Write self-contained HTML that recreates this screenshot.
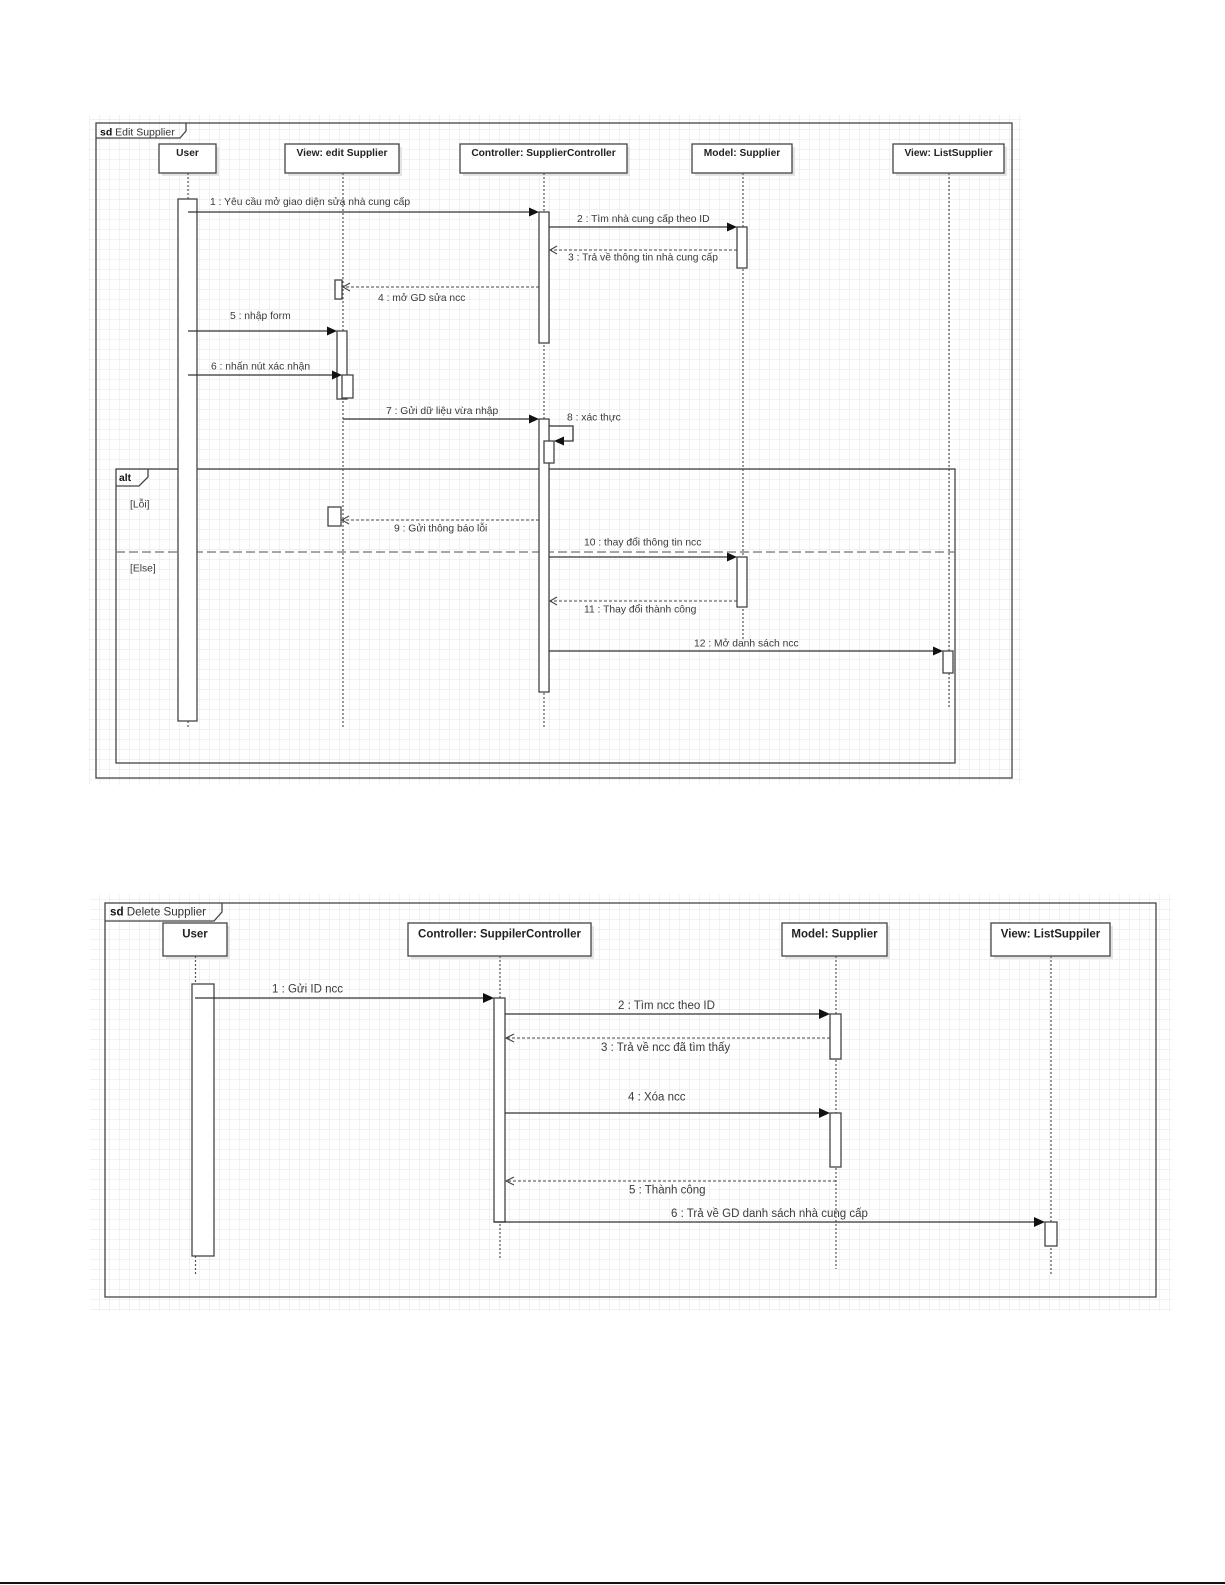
<!DOCTYPE html>
<html>
<head>
<meta charset="utf-8">
<style>
html,body{margin:0;padding:0;background:#fff;}
svg{display:block;}
text{font-family:"Liberation Sans",Arial,sans-serif;}
.lbl{font-size:10.3px;fill:#3a3a3a;}
.lbl2{font-size:11.5px;fill:#3a3a3a;}
.hd{font-size:10.2px;font-weight:bold;fill:#222;}
.hd2{font-size:11.5px;font-weight:bold;fill:#222;}
.ln{stroke:#333;stroke-width:1.3;fill:none;}
.dl{stroke:#444;stroke-width:1.1;stroke-dasharray:3,2;fill:none;}
.life{stroke:#555;stroke-width:1.2;stroke-dasharray:2,2;fill:none;}
.act{fill:#fff;stroke:#444;stroke-width:1.3;}
.box{fill:#fff;stroke:#444;stroke-width:1.3;}
.sh{fill:#e4e4e4;}
.fr{fill:none;stroke:#444;stroke-width:1.3;}
.ah{fill:#111;}
.oa{fill:none;stroke:#444;stroke-width:1.1;}
</style>
</head>
<body>
<svg width="1225" height="1585" viewBox="0 0 1225 1585" xmlns="http://www.w3.org/2000/svg">
<defs>
<pattern id="g" x="0" y="0" width="10" height="10" patternUnits="userSpaceOnUse">
<path d="M10 0 V10 M0 10 H10" stroke="#e6e6e6" stroke-width="1" fill="none"/>
</pattern>
</defs>
<rect width="1225" height="1585" fill="#fff"/>

<!-- ============ TOP DIAGRAM ============ -->
<rect x="89" y="115" width="933" height="670" fill="url(#g)"/>
<rect x="96" y="123" width="916" height="655" class="fr"/>
<path d="M96 138 H180 L186 131 V123" class="fr" fill="#fff"/>
<text x="100" y="135.5" style="font-size:10.5px;fill:#333"><tspan font-weight="bold" fill="#111">sd</tspan> Edit Supplier</text>

<!-- heads -->
<rect x="162" y="147" width="57" height="29" class="sh"/>
<rect x="159" y="144" width="57" height="29" class="box"/>
<text x="187.5" y="156" text-anchor="middle" class="hd">User</text>

<rect x="288" y="147" width="114" height="29" class="sh"/>
<rect x="285" y="144" width="114" height="29" class="box"/>
<text x="342" y="156" text-anchor="middle" class="hd">View: edit Supplier</text>

<rect x="463" y="147" width="167" height="29" class="sh"/>
<rect x="460" y="144" width="167" height="29" class="box"/>
<text x="543.5" y="156" text-anchor="middle" class="hd">Controller: SupplierController</text>

<rect x="695" y="147" width="100" height="29" class="sh"/>
<rect x="692" y="144" width="100" height="29" class="box"/>
<text x="742" y="156" text-anchor="middle" class="hd">Model: Supplier</text>

<rect x="896" y="147" width="111" height="29" class="sh"/>
<rect x="893" y="144" width="111" height="29" class="box"/>
<text x="948.5" y="156" text-anchor="middle" class="hd">View: ListSupplier</text>

<!-- lifelines -->
<line x1="188" y1="173" x2="188" y2="729" class="life"/>
<line x1="343" y1="173" x2="343" y2="728" class="life"/>
<line x1="544" y1="173" x2="544" y2="728" class="life"/>
<line x1="743" y1="173" x2="743" y2="640" class="life"/>
<line x1="949" y1="173" x2="949" y2="708" class="life"/>

<!-- alt frame -->
<rect x="116" y="469" width="839" height="294" class="fr"/>
<path d="M116 486 H139 L148 477 V469" class="fr" fill="#fff"/>
<text x="119" y="481" style="font-size:10.3px;font-weight:bold;fill:#111">alt</text>
<line x1="116" y1="552" x2="955" y2="552" stroke="#888" stroke-width="1.5" stroke-dasharray="9,4"/>
<text x="130" y="507.5" class="lbl">[Lỗi]</text>
<text x="130" y="571.5" class="lbl">[Else]</text>

<!-- activations -->
<rect x="178" y="199" width="19" height="522" class="act"/>
<rect x="539" y="212" width="10" height="131" class="act"/>
<rect x="737" y="227" width="10" height="41" class="act"/>
<rect x="335" y="280" width="7" height="19" class="act"/>
<rect x="337" y="331" width="10" height="68" class="act"/>
<rect x="342" y="375" width="11" height="23" class="act"/>
<rect x="539" y="419" width="10" height="273" class="act"/>
<rect x="544" y="441" width="10" height="22" class="act"/>
<rect x="328" y="507" width="13" height="19" class="act"/>
<rect x="737" y="557" width="10" height="50" class="act"/>
<rect x="943" y="651" width="10" height="22" class="act"/>

<!-- messages -->
<line x1="188" y1="212" x2="530" y2="212" class="ln"/>
<polygon points="539,212 529,207.5 529,216.5" class="ah"/>
<text x="210" y="205" class="lbl">1 : Yêu cầu mở giao diện sửa nhà cung cấp</text>

<line x1="549" y1="227" x2="728" y2="227" class="ln"/>
<polygon points="737,227 727,222.5 727,231.5" class="ah"/>
<text x="577" y="222" class="lbl">2 : Tìm nhà cung cấp theo ID</text>

<line x1="737" y1="250" x2="550" y2="250" class="dl"/>
<polyline points="557,246 550,250 557,254" class="oa"/>
<text x="568" y="260.5" class="lbl">3 : Trả về thông tin nhà cung cấp</text>

<line x1="539" y1="287" x2="343" y2="287" class="dl"/>
<polyline points="350,283 343,287 350,291" class="oa"/>
<text x="378" y="301" class="lbl">4 : mở GD sửa ncc</text>

<line x1="188" y1="331" x2="328" y2="331" class="ln"/>
<polygon points="337,331 327,326.5 327,335.5" class="ah"/>
<text x="230" y="319" class="lbl">5 : nhập form</text>

<line x1="188" y1="375" x2="333" y2="375" class="ln"/>
<polygon points="342,375 332,370.5 332,379.5" class="ah"/>
<text x="211" y="369.5" class="lbl">6 : nhấn nút xác nhận</text>

<line x1="343" y1="419" x2="530" y2="419" class="ln"/>
<polygon points="539,419 529,414.5 529,423.5" class="ah"/>
<text x="386" y="414" class="lbl">7 : Gửi dữ liệu vừa nhập</text>

<path d="M549 426 H573 V441 H563" class="ln"/>
<polygon points="554,441 564,436.5 564,445.5" class="ah"/>
<text x="567" y="420.5" class="lbl">8 : xác thực</text>

<line x1="539" y1="520" x2="342" y2="520" class="dl"/>
<polyline points="349,516 342,520 349,524" class="oa"/>
<text x="394" y="531.5" class="lbl">9 : Gửi thông báo lỗi</text>

<line x1="549" y1="557" x2="728" y2="557" class="ln"/>
<polygon points="737,557 727,552.5 727,561.5" class="ah"/>
<text x="584" y="545.5" class="lbl">10 : thay đổi thông tin ncc</text>

<line x1="737" y1="601" x2="550" y2="601" class="dl"/>
<polyline points="557,597 550,601 557,605" class="oa"/>
<text x="584" y="612.5" class="lbl">11 : Thay đổi thành công</text>

<line x1="549" y1="651" x2="934" y2="651" class="ln"/>
<polygon points="943,651 933,646.5 933,655.5" class="ah"/>
<text x="694" y="646.5" class="lbl">12 : Mở danh sách ncc</text>

<!-- ============ BOTTOM DIAGRAM ============ -->
<rect x="90" y="894" width="1082" height="417" fill="url(#g)"/>
<rect x="105" y="903" width="1051" height="394" class="fr"/>
<path d="M105 921 H214 L222 912 V903" class="fr" fill="#fff"/>
<text x="110" y="915.5" style="font-size:11.6px;fill:#333"><tspan font-weight="bold" fill="#111">sd</tspan> Delete Supplier</text>

<rect x="166" y="926" width="64" height="33" class="sh"/>
<rect x="163" y="923" width="64" height="33" class="box"/>
<text x="195" y="937.5" text-anchor="middle" class="hd2">User</text>

<rect x="411" y="926" width="183" height="33" class="sh"/>
<rect x="408" y="923" width="183" height="33" class="box"/>
<text x="499.5" y="937.5" text-anchor="middle" class="hd2">Controller: SuppilerController</text>

<rect x="785" y="926" width="105" height="33" class="sh"/>
<rect x="782" y="923" width="105" height="33" class="box"/>
<text x="834.5" y="937.5" text-anchor="middle" class="hd2">Model: Supplier</text>

<rect x="994" y="926" width="119" height="33" class="sh"/>
<rect x="991" y="923" width="119" height="33" class="box"/>
<text x="1050.5" y="937.5" text-anchor="middle" class="hd2">View: ListSuppiler</text>

<line x1="195.5" y1="956" x2="195.5" y2="1276" class="life"/>
<line x1="500" y1="956" x2="500" y2="1259" class="life"/>
<line x1="836" y1="956" x2="836" y2="1269" class="life"/>
<line x1="1051" y1="956" x2="1051" y2="1274" class="life"/>

<rect x="192" y="984" width="22" height="272" class="act"/>
<rect x="494" y="998" width="11" height="224" class="act"/>
<rect x="830" y="1014" width="11" height="45" class="act"/>
<rect x="830" y="1113" width="11" height="54" class="act"/>
<rect x="1045" y="1222" width="12" height="24" class="act"/>

<line x1="195" y1="998" x2="484" y2="998" class="ln"/>
<polygon points="494,998 483,993 483,1003" class="ah"/>
<text x="272" y="992.5" class="lbl2">1 : Gửi ID ncc</text>

<line x1="505" y1="1014" x2="820" y2="1014" class="ln"/>
<polygon points="830,1014 819,1009 819,1019" class="ah"/>
<text x="618" y="1009" class="lbl2">2 : Tìm ncc theo ID</text>

<line x1="830" y1="1038" x2="506" y2="1038" class="dl"/>
<polyline points="514,1034 506,1038 514,1042" class="oa"/>
<text x="601" y="1051" class="lbl2">3 : Trả về ncc đã tìm thấy</text>

<line x1="505" y1="1113" x2="820" y2="1113" class="ln"/>
<polygon points="830,1113 819,1108 819,1118" class="ah"/>
<text x="628" y="1100.5" class="lbl2">4 : Xóa ncc</text>

<line x1="836" y1="1181" x2="506" y2="1181" class="dl"/>
<polyline points="514,1177 506,1181 514,1185" class="oa"/>
<text x="629" y="1193.5" class="lbl2">5 : Thành công</text>

<line x1="494" y1="1222" x2="1035" y2="1222" class="ln"/>
<polygon points="1045,1222 1034,1217 1034,1227" class="ah"/>
<text x="671" y="1216.8" class="lbl2">6 : Trả về GD danh sách nhà cung cấp</text>

<!-- bottom page line -->
<rect x="0" y="1582" width="1225" height="2" fill="#111"/>
</svg>
</body>
</html>
